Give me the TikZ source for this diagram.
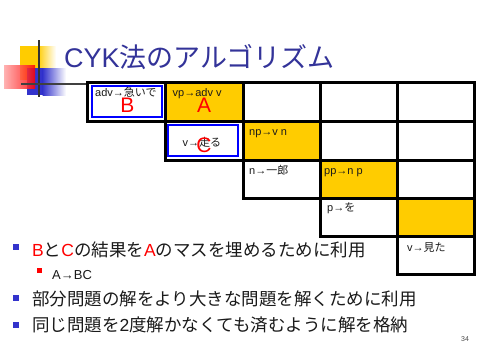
\documentclass[tikz,border=0pt]{standalone}
\usepackage{fontspec}
\setmainfont{Liberation Sans}
\newfontfamily\jp{Noto Sans CJK JP}
\definecolor{titleblue}{HTML}{333399}
\definecolor{bulblue}{HTML}{3333CC}
\definecolor{cellyellow}{HTML}{FFCC00}
\definecolor{txt}{HTML}{1A1A1A}
\tikzset{
  gridcell/.style={draw=black, line width=3pt},
  yellowcell/.style={gridcell, fill=cellyellow},
  whitecell/.style={gridcell, fill=white},
  bluebox/.style={draw=blue, line width=2.5pt},
  celltext/.style={anchor=base west, inner sep=0pt, font=\fontsize{11}{12}\selectfont, text=txt},
  bigletter/.style={anchor=base, inner sep=0pt, text=red, font=\fontsize{21}{22}\selectfont},
  bulletline/.style={anchor=base west, inner sep=0pt, text=txt, font=\fontsize{17.5}{18}\selectfont},
  bulsq/.style={fill=bulblue, inner sep=0pt, minimum size=6pt},
}
\begin{document}
\begin{tikzpicture}[x=1pt,y=-1pt]
\useasboundingbox (0,0) rectangle (486,351);
\fill[white] (0,0) rectangle (486,351);
% decoration
\fill[cellyellow] (20,46) rectangle (38,80);
\shade[left color=cellyellow, right color=white] (37.5,46) rectangle (56,80);
\fill[bulblue] (27,68) rectangle (43,95);
\shade[left color=bulblue, right color=white] (42.5,68) rectangle (66,95);
\shade[left color=red!35, right color=red, opacity=0.85] (4,65) rectangle (35,88);
\draw[line width=1.5pt, black!80] (39,40) -- (39,97);
\draw[line width=1.5pt, black!75] (21,84) -- (88,84);
% title
\node[anchor=base west, inner sep=0pt, text=titleblue, font=\fontsize{27}{28}\selectfont] (title) at (64,67) {CYK{\jp 法のアルゴリズム}};
% grid
\filldraw[whitecell] (87,82) rectangle (165,121);
\filldraw[yellowcell] (165,82) rectangle (243,121);
\filldraw[whitecell] (243,82) rectangle (320,121);
\filldraw[whitecell] (320,82) rectangle (397,121);
\filldraw[whitecell] (397,82) rectangle (474,121);
\filldraw[whitecell] (165,121) rectangle (243,160);
\filldraw[yellowcell] (243,121) rectangle (320,160);
\filldraw[whitecell] (320,121) rectangle (397,160);
\filldraw[whitecell] (397,121) rectangle (474,160);
\filldraw[whitecell] (243,160) rectangle (320,198);
\filldraw[yellowcell] (320,160) rectangle (397,198);
\filldraw[whitecell] (397,160) rectangle (474,198);
\filldraw[whitecell] (320,198) rectangle (397,236);
\filldraw[yellowcell] (397,198) rectangle (474,236);
\filldraw[whitecell] (397,236) rectangle (474,274);
% blue boxes
\draw[bluebox] (92,86) rectangle (162,117);
\draw[bluebox] (168,125) rectangle (238,156);
% cell texts
\node[celltext] (t11) at (95,96) {adv→{\jp 急いで}};
\node[celltext] (t12) at (172.5,96.5) {vp→adv v};
\node[celltext] (t22) at (182.5,146.5) {v→{\jp 走る}};
\node[celltext] (t23) at (249,135) {np→v n};
\node[celltext] (t33) at (249,174) {n→{\jp 一郎}};
\node[celltext] (t34) at (324,174) {pp→n p};
\node[celltext] (t44) at (327,211.5) {p→{\jp を}};
\node[celltext] (t55) at (407,251) {v→{\jp 見た}};
% big letters
\node[bigletter] (B) at (127.5,112) {B};
\node[bigletter] (A) at (204,112) {A};
\node[bigletter] (C) at (204,152.5) {C};
% bullets
\node[bulsq] (b1) at (16.2,247) {};
\node[bulletline] (l1) at (32,256) {{\color{red}B}{\jp と}{\color{red}C}{\jp の結果を}{\color{red}A}{\jp のマスを埋めるために利用}};
\node[fill=red, inner sep=0pt, minimum size=4.5pt] (b2) at (39.5,270.5) {};
\node[anchor=base west, inner sep=0pt, text=txt, font=\fontsize{13}{14}\selectfont] (l2) at (52,279) {A→BC};
\node[bulsq] (b3) at (16.2,298) {};
\node[bulletline] (l3) at (32,305) {{\jp 部分問題の解をより大きな問題を解くために利用}};
\node[bulsq] (b4) at (16.2,325) {};
\node[bulletline] (l4) at (32,331) {{\jp 同じ問題を}2{\jp 度解かなくても済むように解を格納}};
\node[inner sep=0pt, text=black!70, font=\fontsize{7}{8}\selectfont] (pg) at (465,339) {34};
\end{tikzpicture}
\end{document}
